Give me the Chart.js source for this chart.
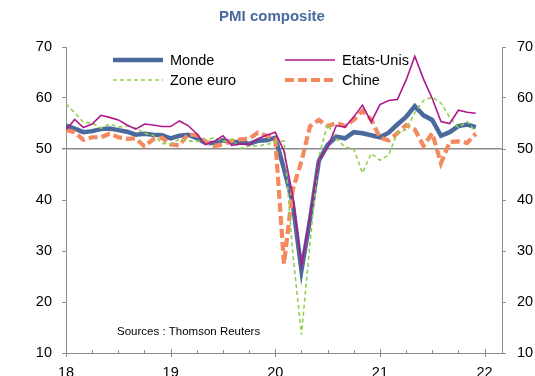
<!DOCTYPE html>
<html>
<head>
<meta charset="utf-8">
<script src="https://cdn.jsdelivr.net/npm/chart.js@4.4.1/dist/chart.umd.min.js"></script>
<style>
  html, body { margin: 0; padding: 0; background: #fff; }
  #wrap { width: 535px; height: 376px; position: relative; }
</style>
</head>
<body>
<div id="wrap"><canvas id="c" width="535" height="376"></canvas></div>
<script>
// PMI composite, monthly, Jan 2018 - Dec 2021
const chartTitle = 'PMI composite';
const sourceNote = 'Sources : Thomson Reuters';
const firstYear = 18;           // axis shows two-digit years
const yearLabels = [18, 19, 20, 21, 22];
const yTickValues = [10, 20, 30, 40, 50, 60, 70];

const monde = [
  54.6, 54.0, 53.3, 53.5, 53.9, 54.0, 53.7, 53.4, 52.8, 53.0, 52.8, 52.7,
  52.1, 52.6, 52.8, 52.1, 51.2, 51.2, 51.7, 51.3, 51.4, 51.0, 51.6, 51.7,
  52.2, 46.1, 39.4, 26.2, 36.3, 47.7, 50.8, 52.4, 52.1, 53.3, 53.1, 52.7,
  52.3, 53.2, 54.8, 56.3, 58.4, 56.6, 55.7, 52.6, 53.3, 54.5, 54.8, 54.3
];
const etatsUnis = [
  53.8, 55.8, 54.2, 54.9, 56.6, 56.2, 55.7, 54.7, 53.9, 54.9, 54.7, 54.4,
  54.4, 55.5, 54.6, 53.0, 50.9, 51.5, 52.6, 50.7, 51.0, 50.9, 52.0, 52.7,
  53.3, 49.6, 40.9, 27.0, 37.0, 47.9, 50.3, 54.6, 54.3, 56.3, 58.6, 55.3,
  58.7, 59.5, 59.7, 63.5, 68.2, 63.7, 59.9, 55.4, 55.0, 57.6, 57.2, 57.0
];
const zoneEuro = [
  58.8, 57.1, 55.2, 55.1, 54.1, 54.9, 54.3, 54.5, 54.1, 53.1, 52.7, 51.1,
  51.0, 51.9, 51.6, 51.5, 51.8, 52.2, 51.5, 51.9, 50.1, 50.6, 50.6, 50.9,
  51.3, 51.6, 29.7, 13.6, 31.9, 48.5, 54.9, 51.9, 50.4, 50.0, 45.3, 49.1,
  47.8, 48.8, 53.2, 53.8, 57.1, 59.5, 60.2, 59.0, 56.2, 54.2, 55.4, 53.3
];
const chine = [
  53.7, 53.3, 51.8, 52.3, 52.3, 53.0, 52.3, 52.0, 52.1, 50.5, 51.9, 52.2,
  50.9, 50.7, 52.9, 52.7, 51.5, 50.6, 50.9, 51.6, 51.9, 52.0, 53.2, 52.6,
  51.9, 27.5, 42.0, 47.6, 54.5, 55.7, 54.5, 55.1, 54.5, 55.7, 57.5, 55.8,
  52.2, 51.7, 53.1, 54.7, 53.8, 50.6, 53.1, 47.2, 51.4, 51.5, 51.2, 53.0
];

// month index -> decimal year on the linear time axis
const toPoints = arr => arr.map((v, i) => ({ x: firstYear + i / 12, y: v }));

const FONT = '"Liberation Sans", Arial, sans-serif';
const AXIS_GREY = '#8c8c8c';

const styles = {
  monde:     { color: '#4a6a9e', width: 4.5, dash: [] },
  etatsUnis: { color: '#b0178c', width: 1.6, dash: [] },
  zoneEuro:  { color: '#92d050', width: 1.6, dash: [4, 3] },
  chine:     { color: '#f4895f', width: 4.2, dash: [9, 4] }
};

function ds(label, data, st, order) {
  return {
    label, data: toPoints(data), order,
    borderColor: st.color, backgroundColor: st.color,
    borderWidth: st.width, borderDash: st.dash,
    pointRadius: 0, tension: 0, fill: false
  };
}

// Title, legend and source note
const annotations = {
  id: 'annotations',
  afterDatasetsDraw(chart) {
    const c = chart.ctx;
    c.save();
    c.textBaseline = 'middle';
    c.fillStyle = '#4a6a9e';
    c.font = 'bold 15px ' + FONT;
    c.textAlign = 'center';
    c.fillText(chartTitle, 272, 17);

    const entries = [
      { ds: chart.data.datasets[0], x: 113, y: 60 },
      { ds: chart.data.datasets[1], x: 285, y: 60 },
      { ds: chart.data.datasets[2], x: 113, y: 80 },
      { ds: chart.data.datasets[3], x: 285, y: 80 }
    ];
    c.textAlign = 'left';
    c.font = '14.5px ' + FONT;
    entries.forEach(e => {
      c.beginPath();
      c.strokeStyle = e.ds.borderColor;
      c.lineWidth = e.ds.borderWidth;
      c.setLineDash(e.ds.borderDash);
      c.moveTo(e.x, e.y);
      c.lineTo(e.x + 50, e.y);
      c.stroke();
      c.setLineDash([]);
      c.fillStyle = '#000';
      c.fillText(e.ds.label, e.x + 57, e.y + 1);
    });

    c.font = '11.5px ' + FONT;
    c.fillText(sourceNote, 117, 332);
    c.restore();
  }
};

// Year ticks cross the axis, quarter ticks sit inside the plot
const xTickMarks = {
  id: 'xTickMarks',
  afterDraw(chart) {
    const sx = chart.scales.x;
    const c = chart.ctx;
    const y0 = chart.chartArea.bottom;
    c.save();
    c.strokeStyle = AXIS_GREY;
    c.lineWidth = 1;
    sx.ticks.forEach(t => {
      const px = Math.round(sx.getPixelForValue(t.value)) + 0.5;
      const major = Number.isInteger(t.value);
      c.beginPath();
      c.moveTo(px, major ? y0 - 4 : y0 - 3);
      c.lineTo(px, major ? y0 + 4 : y0);
      c.stroke();
    });
    c.restore();
  }
};

const yAxisBase = {
  type: 'linear', min: 10, max: 70,
  afterBuildTicks: s => { s.ticks = yTickValues.map(v => ({ value: v })); },
  border: { display: true, color: AXIS_GREY, width: 1 },
  ticks: { color: '#000', font: { family: FONT, size: 14.5 }, padding: 10 }
};

new Chart(document.getElementById('c'), {
  type: 'line',
  data: {
    datasets: [
      ds('Monde', monde, styles.monde, 3),
      ds('Etats-Unis', etatsUnis, styles.etatsUnis, 0),
      ds('Zone euro', zoneEuro, styles.zoneEuro, 1),
      ds('Chine', chine, styles.chine, 2)
    ]
  },
  options: {
    responsive: false,
    animation: false,
    layout: { padding: { top: 47, left: 0, right: 0, bottom: 0 } },
    plugins: { legend: { display: false }, title: { display: false }, tooltip: { enabled: false } },
    scales: {
      x: {
        type: 'linear', min: 18, max: 22 + 2 / 12,
        afterBuildTicks: s => {
          const t = [];
          for (let v = 18; v <= 22; v += 0.25) t.push({ value: v });
          s.ticks = t;
        },
        afterFit: s => { s.height = 23; },
        border: { display: true, color: AXIS_GREY, width: 1 },
        grid: { display: false, drawTicks: false },
        ticks: {
          autoSkip: false, maxRotation: 0, padding: 11,
          color: '#000', font: { family: FONT, size: 14.5 },
          callback: v => (yearLabels.includes(v) ? String(v) : '')
        }
      },
      y: Object.assign({}, yAxisBase, {
        position: 'left',
        afterFit: s => { s.width = 66; },
        grid: {
          drawOnChartArea: true, tickLength: 4, tickColor: AXIS_GREY,
          color: ctx => (ctx.tick && ctx.tick.value === 50 ? '#8a8a8a' : 'rgba(0,0,0,0)'),
          lineWidth: ctx => (ctx.tick && ctx.tick.value === 50 ? 1.5 : 1)
        }
      }),
      y2: Object.assign({}, yAxisBase, {
        position: 'right',
        afterFit: s => { s.width = 33; },
        grid: { drawOnChartArea: false, tickLength: 4, tickColor: AXIS_GREY, color: AXIS_GREY },
        ticks: { color: '#000', font: { family: FONT, size: 14.5 }, padding: 11 }
      })
    }
  },
  plugins: [annotations, xTickMarks]
});
</script>
</body>
</html>
